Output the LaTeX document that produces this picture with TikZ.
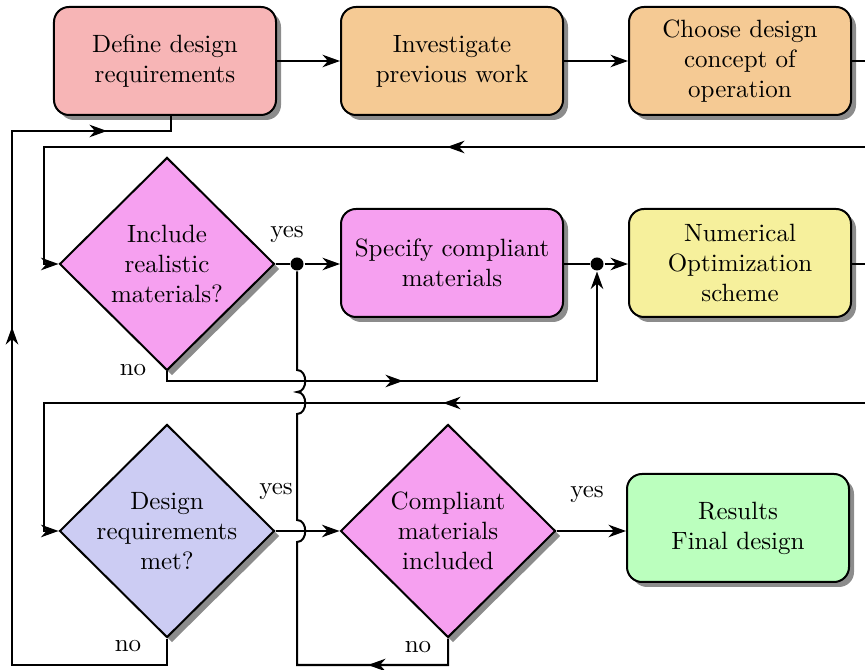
\documentclass[tikz,border=0pt]{standalone}
\usetikzlibrary{shapes.geometric,shadows,arrows.meta}
\definecolor{cRed}{RGB}{247,181,182}
\definecolor{cOrange}{RGB}{245,202,148}
\definecolor{cPink}{RGB}{246,160,240}
\definecolor{cYellow}{RGB}{246,240,156}
\definecolor{cBlue}{RGB}{204,204,243}
\definecolor{cGreen}{RGB}{187,255,190}
\begin{document}
\begin{tikzpicture}[x=0.4pt,y=-0.4pt,
  line width=0.8pt,
  arr/.style={-{Stealth[length=7pt,width=5pt,inset=2.2pt]}},
  shad/.style={drop shadow={shadow xshift=2pt,shadow yshift=-2pt,fill=black!45,opacity=1}},
  box/.style={draw,rounded corners=6pt,minimum width=88.8pt,minimum height=43.2pt,align=center,shad},
  dia/.style={draw,diamond,aspect=1,minimum width=86pt,minimum height=85.2pt,inner sep=-3pt,align=center,shad},
  dot/.style={circle,fill,inner sep=0pt,minimum size=5.2pt},
  lbl/.style={inner sep=1pt}]
\useasboundingbox (0,0) rectangle (865,670);
% nodes
\node[box,fill=cRed] (b1) at (165,61) {Define design\\requirements};
\node[box,fill=cOrange] (b2) at (452,61) {Investigate\\previous work};
\node[box,fill=cOrange] (b3) at (740,61) {Choose design\\concept of\\operation};
\node[dia,fill=cPink] (d1) at (167,264) {Include\\realistic\\materials?};
\node[box,fill=cPink] (b4) at (452,263) {Specify compliant\\materials};
\node[box,fill=cYellow] (b5) at (740,263) {Numerical\\Optimization\\scheme};
\node[dia,fill=cBlue] (d3) at (167,531) {Design\\requirements\\met?};
\node[dia,fill=cPink] (d4) at (448,531) {Compliant\\materials\\included};
\node[box,fill=cGreen] (b6) at (738,528) {Results\\Final design};
\node[dot] (p1) at (297,264) {};
\node[dot] (p2) at (597,264) {};
% labels
\node[lbl] at (287,234) {yes};
\node[lbl] at (133,370) {no};
\node[lbl] at (276,491) {yes};
\node[lbl] at (587,494) {yes};
\node[lbl] at (128,646) {no};
\node[lbl] at (418,647) {no};
% coordinates
\coordinate (e1) at (865,61);
\coordinate (e2) at (865,147);
\coordinate (a2) at (447,147);
\coordinate (k1) at (44,147);
\coordinate (e3) at (865,264);
\coordinate (a3) at (403,381);
\coordinate (e4) at (865,403);
\coordinate (a5) at (443,403);
\coordinate (k2) at (44,403);
\coordinate (a6) at (368,665);
\coordinate (k5) at (297,665);
\coordinate (k3) at (12,665);
\coordinate (a7) at (12,327);
\coordinate (k4) at (12,131);
\coordinate (a8) at (107,131);
% connectors
\draw[arr] (b1) -- (b2);
\draw[arr] (b2) -- (b3);
\draw (b3) -- (e1);
\draw[arr] (e2) -- (a2);
\draw[arr] (e2) -- (k1) |- (d1.west);
\draw (d1.east) -- (p1);
\draw[arr] (p1) -- (p1 -| b4.west);
\draw (p2 -| b4.east) -- (p2);
\draw[arr] (p2) -- (p2 -| b5.west);
\draw (p2 -| b5.east) -- (e3);
\draw[arr] (d1.south) |- (a3);
\draw[arr] (d1.south) |- (a3 -| p2) -- (p2.south);
\draw[arr] (e4) -- (a5);
\draw[arr] (e4) -- (k2) |- (d3.west);
\draw[arr] (d3.east) -- (d4.west);
\draw[arr] (d4.east) -- (d4.east -| b6.west);
\draw[arr] (d4.south) |- (a6);
\draw (d4.south) |- (k5) -- (297,542) .. controls (308,542) and (308,520) .. (297,520)
  -- (297,414) .. controls (308,414) and (308,392) .. (297,392)
  .. controls (308,392) and (308,370) .. (297,370) -- (p1);
\draw[arr] (d3.south) |- (k3) -- (a7);
\draw[arr] (a7) -- (k4) -- (a8);
\draw (d3.south) |- (k3) -- (k4) -| ([xshift=2.4pt]b1.south);
\end{tikzpicture}
\end{document}
